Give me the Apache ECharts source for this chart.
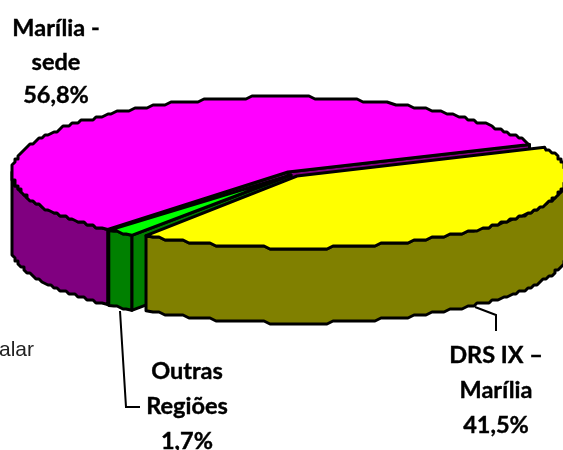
<!DOCTYPE html>
<html><head><meta charset="utf-8">
<style>html,body{margin:0;padding:0;background:#fff}#c{width:563px;height:450px}</style>
<script src="https://cdn.jsdelivr.net/npm/echarts@6/dist/echarts.min.js"></script>
</head><body><div id="c"></div>
<script>
const categories = ["Marília -\nsede", "Outras\nRegiões", "DRS IX –\nMarília"];
const shares = [56.8, 1.7, 41.5];
const fragment = "alar";

const topColors = ["#FF00FF", "#00FF00", "#FFFF00"];
const sideColors = ["#800080", "#008000", "#808000"];
// per-slice layout of the exploded, tilted pie: apex, ellipse centre, radii, rim angles (deg, ccw)
const geom = [
  {ax: 288, ay: 172, cx: 280, cy: 172, rx: 268, ry: 75, end: 230},
  {ax: 291, ay: 175, cx: 291, cy: 175, rx: 275, ry: 74, start: 228.5},
  {ax: 297, ay: 176, cx: 297, cy: 176, rx: 270, ry: 72, start: 236}
];
const sweepFactor = [1.02, 1, 0.987];
const DEPTH = 75, SNAP = 3;
const labelPos = [[56, 12], [187, 354], [496, 338]];
const labelLine = [33.5, 35, 35];
const leaders = [null, [[120,311],[126,407],[140,407]], [[475,307],[496,315],[496,331]]];

function snap(v){ return Math.round(v / SNAP) * SNAP; }
function rim(g, deg){
  const t = deg * Math.PI / 180;
  return [g.cx + g.rx * Math.cos(t), g.cy - g.ry * Math.sin(t)];
}
function arc(g, a, b){
  const pts = [], n = Math.max(2, Math.ceil(Math.abs(b - a) / 1.5));
  for (let i = 0; i <= n; i++){
    const p = rim(g, a + (b - a) * i / n);
    pts.push((i === 0 || i === n) ? p : [snap(p[0]), snap(p[1])]);
  }
  return pts;
}
function poly(points, fill){
  return {type:'polygon', shape:{points}, style:{fill, stroke:'#000', lineWidth:3, lineJoin:'round'}};
}
function renderItem(params, api){
  const i = params.dataIndex, g = geom[i];
  const sweep = api.value(0) * 3.6 * sweepFactor[i];
  const a0 = g.start !== undefined ? g.start : g.end - sweep;
  const a1 = a0 + sweep;
  const apex = [g.ax, g.ay], down = p => [p[0], p[1] + DEPTH];
  const side = sideColors[i], children = [];
  const faceAngles = i === 0 ? [a0, a1] : (i === 1 ? [a1] : []);
  faceAngles.forEach(a => {
    const p = rim(g, a);
    children.push(poly([apex, p, down(p), down(apex)], side));
  });
  const ranges = [];
  for (const k of [0, 360]){
    const s = Math.max(a0, 180 + k), e = Math.min(a1, 360 + k);
    if (e > s) ranges.push([s, e]);
  }
  ranges.forEach(r => {
    const top = arc(g, r[0], r[1]);
    const bottom = arc(g, r[1], r[0]).map(down);
    children.push(poly(top.concat(bottom), side));
  });
  children.push(poly([apex].concat(arc(g, a0, a1)), topColors[i]));
  return {type:'group', children};
}
const labelGraphics = categories.map((c, i) => ({
  type:'text', x: labelPos[i][0], y: labelPos[i][1], z: 10,
  style:{text: c + "\n" + shares[i].toFixed(1).replace('.', ',') + "%",
    font:'bold 23.5px Lato', fill:'#000', stroke:'#000', lineWidth:0.4, align:'center', lineHeight:labelLine[i]}
}));
const leaderGraphics = leaders.filter(Boolean).map(pts => ({
  type:'polyline', z: 9, shape:{points: pts}, style:{stroke:'#000', lineWidth:2, fill:null}
}));
const chart = echarts.init(document.getElementById('c'), null, {renderer:'canvas'});
chart.setOption({
  animation:false,
  backgroundColor:'#fff',
  series:[{type:'custom', coordinateSystem:'none', renderItem, data: shares.map(v => [v]), silent:true}],
  graphic: labelGraphics.concat(leaderGraphics, [{
    type:'text', x:-1, y:340, z:10, style:{text:fragment, font:'21px "Liberation Sans"', fill:'#222'}
  }])
});
</script></body></html>
